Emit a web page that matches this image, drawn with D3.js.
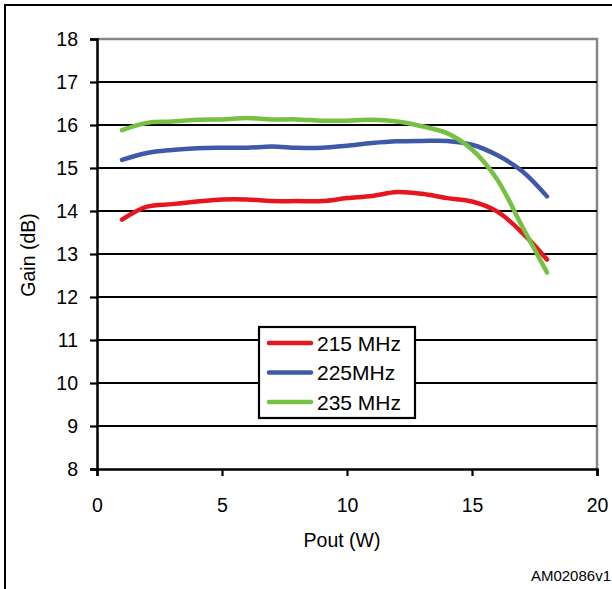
<!DOCTYPE html>
<html>
<head>
<meta charset="utf-8">
<script src="https://cdn.jsdelivr.net/npm/d3@7"></script>
<style>
  body { margin: 0; background: #fff; }
  text { font-family: "Liberation Sans", Arial, sans-serif; fill: #000; }
</style>
</head>
<body>
<svg id="chart" width="612" height="589"></svg>
<script>
// Pout (W)
const pout = [1, 2, 3, 4, 5, 6, 7, 8, 9, 10, 11, 12, 13, 14, 15, 16, 17, 18];
// gain (dB) per frequency
const gain215 = [13.8, 14.1, 14.16, 14.22, 14.27, 14.27, 14.23, 14.23, 14.23, 14.3, 14.35, 14.44, 14.4, 14.3, 14.22, 13.99, 13.5, 12.87];
const gain225 = [15.19, 15.35, 15.42, 15.46, 15.47, 15.47, 15.5, 15.47, 15.47, 15.52, 15.58, 15.62, 15.63, 15.63, 15.54, 15.3, 14.93, 14.34];
const gain235 = [15.88, 16.05, 16.08, 16.12, 16.13, 16.16, 16.13, 16.13, 16.1, 16.1, 16.12, 16.08, 15.97, 15.81, 15.43, 14.74, 13.65, 12.57];
const xTicks = [0, 5, 10, 15, 20];
const yTicks = [8, 9, 10, 11, 12, 13, 14, 15, 16, 17, 18];

const series = [
  { name: "215 MHz", values: gain215, color: "#e5161d" },
  { name: "225MHz", values: gain225, color: "#3f59a9" },
  { name: "235 MHz", values: gain235, color: "#76c043" }
];

const svg = d3.select("#chart");
const plotL = 97, plotR = 597, plotT = 39, plotB = 469;
const fs = 19.5;

const x = d3.scaleLinear().domain([0, 20]).range([plotL, plotR]);
const y = d3.scaleLinear().domain([8, 18]).range([plotB, plotT]);

// outer frame
svg.append("rect").attr("x", 5).attr("y", 5).attr("width", 640).attr("height", 640)
  .attr("fill", "none").attr("stroke", "#000").attr("stroke-width", 2);

// plot border (top and right, grey)
svg.append("path")
  .attr("d", `M${plotL},${plotT}H${plotR}V${plotB}`)
  .attr("fill", "none").attr("stroke", "#878787").attr("stroke-width", 2.5);

// gridlines
svg.append("g").selectAll("line")
  .data(yTicks.filter(d => d > 8 && d < 18))
  .join("line")
  .attr("x1", plotL).attr("x2", plotR)
  .attr("y1", d => y(d)).attr("y2", d => y(d))
  .attr("stroke", "#000").attr("stroke-width", 2.2);

// y axis
const yAxis = svg.append("g").attr("transform", `translate(${plotL},0)`)
  .call(d3.axisLeft(y).tickValues(yTicks).tickSize(7).tickPadding(12).tickFormat(d3.format("d")));
yAxis.select(".domain").attr("stroke", "#000").attr("stroke-width", 2.5);
yAxis.selectAll(".tick line").attr("stroke", "#000").attr("stroke-width", 2.2);
yAxis.selectAll("text").attr("font-size", fs).attr("font-family", "Liberation Sans, Arial, sans-serif");

// x axis
const xAxis = svg.append("g").attr("transform", `translate(0,${plotB})`)
  .call(d3.axisBottom(x).tickValues(xTicks).tickSize(7).tickPadding(22).tickFormat(d3.format("d")));
xAxis.select(".domain").attr("stroke", "#000").attr("stroke-width", 2.5);
xAxis.selectAll(".tick line").attr("stroke", "#000").attr("stroke-width", 2.2);
xAxis.selectAll("text").attr("font-size", fs).attr("font-family", "Liberation Sans, Arial, sans-serif");

// curves
const line = d3.line()
  .x((d, i) => x(pout[i]))
  .y(d => y(d))
  .curve(d3.curveCatmullRom.alpha(0.5));

svg.append("g").selectAll("path")
  .data(series)
  .join("path")
  .attr("d", d => line(d.values))
  .attr("fill", "none")
  .attr("stroke", d => d.color)
  .attr("stroke-width", 4.5)
  .attr("stroke-linecap", "round")
  .attr("stroke-linejoin", "round");

// axis titles
svg.append("text")
  .attr("transform", "translate(35,255) rotate(-90)")
  .attr("text-anchor", "middle")
  .attr("font-size", fs)
  .text("Gain (dB)");

svg.append("text")
  .attr("x", 342).attr("y", 547)
  .attr("text-anchor", "middle")
  .attr("font-size", fs)
  .text("Pout (W)");

svg.append("text")
  .attr("x", 611).attr("y", 581)
  .attr("text-anchor", "end")
  .attr("font-size", 15)
  .text("AM02086v1");

// legend
const lg = svg.append("g").attr("transform", "translate(259,327)");
lg.append("rect").attr("width", 156).attr("height", 91)
  .attr("fill", "#fff").attr("stroke", "#000").attr("stroke-width", 2.2);
const rows = lg.selectAll("g.row").data(series).join("g")
  .attr("class", "row")
  .attr("transform", (d, i) => `translate(0,${16 + i * 29.5})`);
rows.append("line").attr("x1", 10).attr("x2", 52)
  .attr("stroke", d => d.color).attr("stroke-width", 4.5).attr("stroke-linecap", "round");
rows.append("text").attr("x", 58).attr("y", 7.5).attr("font-size", 21).text(d => d.name);
</script>
</body>
</html>
